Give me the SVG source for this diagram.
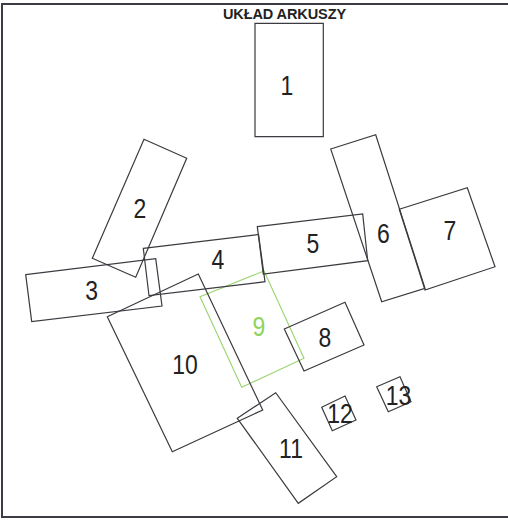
<svg xmlns="http://www.w3.org/2000/svg" width="508" height="528" viewBox="0 0 508 528">
<style>
.s{fill:none;stroke:#3a3a40;stroke-width:1.2;stroke-linejoin:miter}
.g{fill:none;stroke:#9ad46e;stroke-width:1.1}
.t{font-family:"Liberation Sans",Arial,sans-serif;font-size:28px;fill:#222;text-anchor:middle}
.tg{fill:#8fd35a}
.title{font-family:"Liberation Sans",Arial,sans-serif;font-size:14.5px;font-weight:bold;fill:#222;text-anchor:middle;letter-spacing:-0.1px}
.f{fill:none;stroke:#3c3c44;stroke-width:2}
</style>
<rect width="508" height="528" fill="#ffffff"/>
<g id="frame">
<polyline class="f" points="508,4 2,4 2,517 508,517"/>
<text class="title" x="284.5" y="18.7">UKŁAD ARKUSZY</text>
</g>
<g id="n9"><polygon class="g" points="200,296.7 264,271 304,358.3 241.7,387.3"/><text class="t tg" transform="translate(259,336) scale(0.82,1)">9</text></g>
<g id="n1"><polygon class="s" points="255,23.3 323.3,23.3 323.3,136.7 255,136.7"/><text class="t" transform="translate(287,95) scale(0.82,1)">1</text></g>
<g id="n2"><polygon class="s" points="144,139.3 186.7,158.3 135.7,277.3 92.3,258.3"/><text class="t" transform="translate(140,217.5) scale(0.82,1)">2</text></g>
<g id="n3"><polygon class="s" points="25.7,274.7 155.7,258.7 162,306 31.7,321.7"/><text class="t" transform="translate(91.7,300) scale(0.82,1)">3</text></g>
<g id="n4"><polygon class="s" points="143.3,248.3 258.5,234.5 265,281.7 149,295.7"/><text class="t" transform="translate(218,268.5) scale(0.82,1)">4</text></g>
<g id="n5"><polygon class="s" points="257.3,226.7 362.7,214 367.7,260.7 263.3,274"/><text class="t" transform="translate(313,252.5) scale(0.82,1)">5</text></g>
<g id="n6"><polygon class="s" points="330.7,149 375.7,134.7 425,288.3 381.7,301.7"/><text class="t" transform="translate(383.5,242.5) scale(0.82,1)">6</text></g>
<g id="n7"><polygon class="s" points="399.3,209.3 467.3,187.7 495,266.7 425,290"/><text class="t" transform="translate(450,240) scale(0.82,1)">7</text></g>
<g id="n8"><polygon class="s" points="284.3,329 345,302.3 364,345 304,371"/><text class="t" transform="translate(325,347) scale(0.82,1)">8</text></g>
<g id="n10"><polygon class="s" points="107.3,316.7 198.3,274 262.7,410 172.3,451.7"/><text class="t" transform="translate(185,374) scale(0.82,1)">10</text></g>
<g id="n11"><polygon class="s" points="237.3,418.3 275.7,392.7 336.7,476.7 298.3,503.3"/><text class="t" transform="translate(291,458) scale(0.82,1)">11</text></g>
<g id="n12"><polygon class="s" points="321.7,407.3 345,396 356,420 332.3,430.7"/><text class="t" transform="translate(340,422.5) scale(0.82,1)">12</text></g>
<g id="n13"><polygon class="s" points="376.7,386.7 400,376.7 411,401.7 388.3,411.7"/><text class="t" transform="translate(398.5,405) scale(0.82,1)">13</text></g>
<g id="connectors"></g>
</svg>
